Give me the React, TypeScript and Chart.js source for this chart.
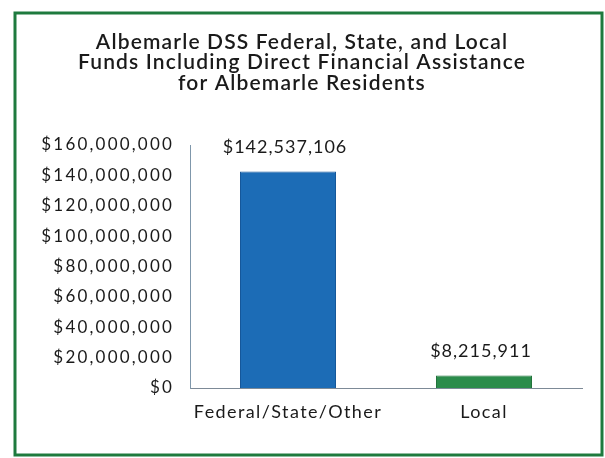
import React, { useEffect, useRef } from 'react';
import { Chart, registerables } from 'chart.js';

Chart.register(...registerables);

const titleLines = [
  'Albemarle DSS Federal, State, and Local',
  'Funds Including Direct Financial Assistance',
  'for Albemarle Residents',
];
const categories = ['Federal/State/Other', 'Local'];
const values = [142537106, 8215911];
const valueLabels = ['$142,537,106', '$8,215,911'];
const barColors = ['#1c6cb6', '#2b8c4b'];
const barBorders = ['#16589a', '#22733c'];
const yMin = 0;
const yMax = 160000000;
const yStep = 20000000;

const FONT = 'Lato, "Open Sans", sans-serif';

function spaceLabels(scale: any, spacing: string) {
  if (scale._spacedPatched) return;
  scale._spacedPatched = true;
  const orig = scale.drawLabels;
  scale.drawLabels = function (area: any) {
    const ctx = this.ctx;
    ctx.save();
    ctx.letterSpacing = spacing;
    orig.call(this, area);
    ctx.restore();
  };
}

const framePlugin = {
  id: 'framePlugin',
  beforeDraw(chart: any) {
    const ctx = chart.ctx;
    ctx.save();
    ctx.fillStyle = '#ffffff';
    ctx.fillRect(0, 0, chart.width, chart.height);
    ctx.restore();
  },
  afterDraw(chart: any) {
    const ctx = chart.ctx;
    ctx.save();
    // frame
    ctx.strokeStyle = '#1e7a3e';
    ctx.lineWidth = 3;
    ctx.strokeRect(15, 13, 587, 442);
    // title
    ctx.letterSpacing = '1.15px';
    ctx.fillStyle = '#1a1a1a';
    ctx.font = `600 21px ${FONT}`;
    ctx.textAlign = 'center';
    ctx.textBaseline = 'middle';
    const ys = [42, 62, 83];
    titleLines.forEach((t, i) => ctx.fillText(t, 302, ys[i]));
    // value labels
    ctx.letterSpacing = '1px';
    ctx.font = `18px ${FONT}`;
    ctx.fillStyle = '#1a1a1a';
    const meta = chart.getDatasetMeta(0);
    meta.data.forEach((bar: any, i: number) => {
      ctx.fillText(valueLabels[i], bar.x - 3, bar.y - 24);
    });
    ctx.restore();
  },
};

export default function App() {
  const ref = useRef<HTMLCanvasElement | null>(null);
  useEffect(() => {
    if (!ref.current) return;
    const chart = new Chart(ref.current, {
      type: 'bar',
      data: {
        labels: categories,
        datasets: [
          {
            data: values,
            backgroundColor: barColors,
            borderColor: barBorders,
            borderWidth: 1,
            barPercentage: 0.49,
            categoryPercentage: 1,
          },
        ],
      },
      options: {
        animation: false,
        responsive: false,
        devicePixelRatio: 1,
        layout: { padding: { top: 145, right: 23, left: 0, bottom: 0 } },
        plugins: {
          legend: { display: false },
          title: { display: false },
          tooltip: { enabled: false },
        },
        scales: {
          x: {
            grid: { display: false, drawTicks: false },
            border: { display: true, color: '#7d8a97', width: 1 },
            ticks: {
              color: '#1a1a1a',
              font: { family: FONT, size: 18 },
              padding: 13,
            },
            afterFit(scale: any) {
              scale.height = 70;
              spaceLabels(scale, '1.4px');
            },
          },
          y: {
            min: yMin,
            max: yMax,
            grid: { display: false, drawTicks: false },
            border: { display: true, color: '#7f97ab', width: 1 },
            ticks: {
              stepSize: yStep,
              color: '#1a1a1a',
              font: { family: FONT, size: 17 },
              padding: 16,
              callback: (v: any) => '$' + Number(v).toLocaleString('en-US'),
            },
            afterFit(scale: any) {
              scale.width = 190;
              spaceLabels(scale, '2.2px');
            },
          },
        },
      },
      plugins: [framePlugin],
    });
    return () => chart.destroy();
  }, []);
  return (
    <div style={{ position: 'fixed', left: 0, top: 0, width: 605, height: 458 }}>
      <canvas ref={ref} width={605} height={458} style={{ width: 605, height: 458, display: 'block' }} />
    </div>
  );
}
